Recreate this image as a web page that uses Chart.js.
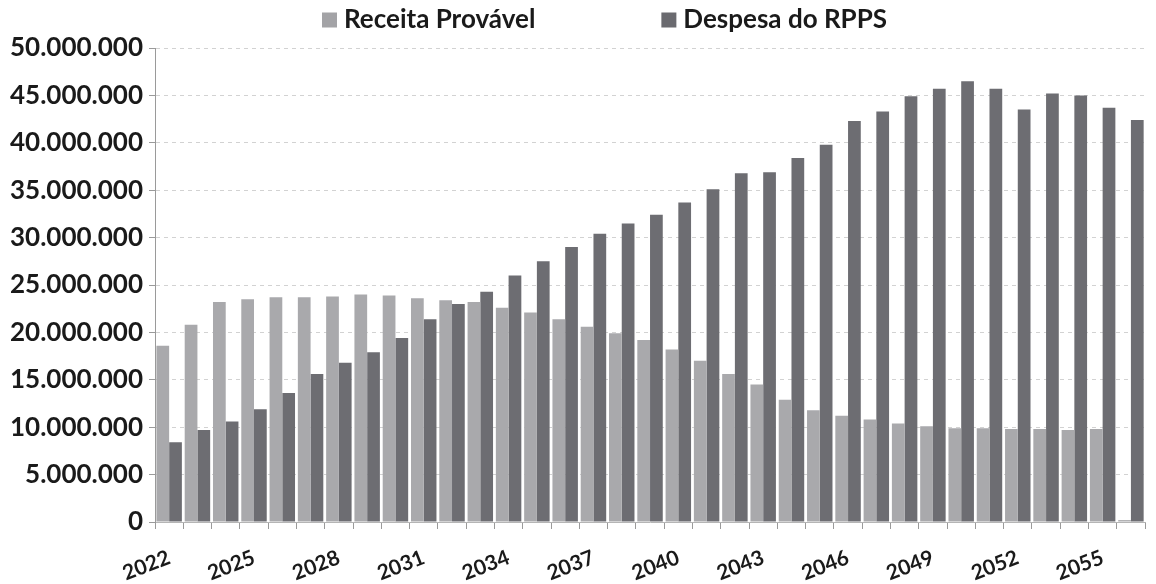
<!DOCTYPE html>
<html>
<head>
<meta charset="utf-8">
<script src="https://cdn.jsdelivr.net/npm/chart.js@4.4.1/dist/chart.umd.min.js"></script>
<style>
  html, body { margin: 0; padding: 0; background: #ffffff; }
  #wrap { width: 1156px; height: 584px; }
</style>
</head>
<body>
<div id="wrap"><canvas id="chart" width="1156" height="584"></canvas></div>
<script>
// Projection years
const years = [
  2022, 2023, 2024, 2025, 2026, 2027, 2028, 2029, 2030, 2031,
  2032, 2033, 2034, 2035, 2036, 2037, 2038, 2039, 2040, 2041,
  2042, 2043, 2044, 2045, 2046, 2047, 2048, 2049, 2050, 2051,
  2052, 2053, 2054, 2055, 2056
];

// Receita Provável (R$)
const receita = [
  18600000, 20800000, 23200000, 23500000, 23700000, 23700000, 23800000, 24000000, 23900000, 23600000,
  23400000, 23200000, 22600000, 22100000, 21400000, 20600000, 19900000, 19200000, 18200000, 17000000,
  15600000, 14500000, 12900000, 11800000, 11200000, 10800000, 10400000, 10100000, 9900000, 9900000,
  9800000, 9800000, 9700000, 9800000, 200000
];

// Despesa do RPPS (R$)
const despesa = [
  8400000, 9700000, 10600000, 11900000, 13600000, 15600000, 16800000, 17900000, 19400000, 21400000,
  23000000, 24300000, 26000000, 27500000, 29000000, 30400000, 31500000, 32400000, 33700000, 35100000,
  36800000, 36900000, 38400000, 39800000, 42300000, 43300000, 44900000, 45700000, 46500000, 45700000,
  43500000, 45200000, 45000000, 43700000, 42400000
];

// Y axis ticks
const yTicks = [0, 5000000, 10000000, 15000000, 20000000, 25000000, 30000000, 35000000, 40000000, 45000000, 50000000];

const FONT = 'Lato, "Open Sans", "DejaVu Sans", sans-serif';

function fmtBR(v) {
  return String(Math.round(v)).replace(/\B(?=(\d{3})+(?!\d))/g, '.');
}

// Legend drawn across the top band, items spaced apart
const topLegend = {
  id: 'topLegend',
  afterDraw(chart) {
    const ctx = chart.ctx;
    const startX = 322, y = 20, box = 15, gapText = 7, gapItem = 126;
    ctx.save();
    ctx.font = 'bold 26px ' + FONT;
    ctx.textBaseline = 'middle';
    ctx.textAlign = 'left';
    let x = startX;
    chart.data.datasets.forEach(ds => {
      ctx.fillStyle = ds.legendColor;
      ctx.fillRect(x, y - box / 2, box, box);
      x += box + gapText;
      ctx.fillStyle = '#1a1a1a';
      ctx.fillText(ds.label, x, y);
      x += ctx.measureText(ds.label).width + gapItem;
    });
    ctx.restore();
  }
};

new Chart(document.getElementById('chart'), {
  type: 'bar',
  data: {
    labels: years.map(String),
    datasets: [
      {
        label: 'Receita Provável',
        data: receita,
        backgroundColor: '#a9a9ac',
        legendColor: '#a3a3a6',
        categoryPercentage: 0.9,
        barPercentage: 1.0
      },
      {
        label: 'Despesa do RPPS',
        data: despesa,
        backgroundColor: '#6d6d72',
        legendColor: '#6a6a6f',
        categoryPercentage: 0.9,
        barPercentage: 1.0
      }
    ]
  },
  options: {
    responsive: false,
    animation: false,
    layout: { padding: { top: 48, right: 3, bottom: 0, left: 0 } },
    plugins: {
      legend: { display: false },
      tooltip: { enabled: false }
    },
    scales: {
      x: {
        grid: {
          offset: true,
          drawOnChartArea: false,
          drawTicks: true,
          tickLength: 7,
          color: '#9a9a9a'
        },
        border: { display: true, color: '#b5b5b5', width: 1 },
        ticks: {
          autoSkip: false,
          minRotation: 21,
          maxRotation: 21,
          padding: 16,
          color: '#1a1a1a',
          font: { family: FONT, size: 21, weight: 'bold' },
          callback: function (value, index) {
            return index % 3 === 0 ? this.getLabelForValue(value) : '';
          }
        },
        afterFit(scale) { scale.height = 62; }
      },
      y: {
        min: 0,
        max: 50000000,
        afterBuildTicks(scale) { scale.ticks = yTicks.map(v => ({ value: v })); },
        grid: {
          color: '#d2d2d2',
          lineWidth: 1,
          drawTicks: true,
          tickLength: 6,
          tickColor: '#9a9a9a'
        },
        border: { display: true, color: '#9a9a9a', width: 1, dash: [4, 4] },
        ticks: {
          padding: 6,
          color: '#1a1a1a',
          font: { family: FONT, size: 26, weight: 'bold' },
          callback: v => fmtBR(v)
        },
        afterFit(scale) { scale.width = 155; }
      }
    }
  },
  plugins: [topLegend]
});
</script>
</body>
</html>
